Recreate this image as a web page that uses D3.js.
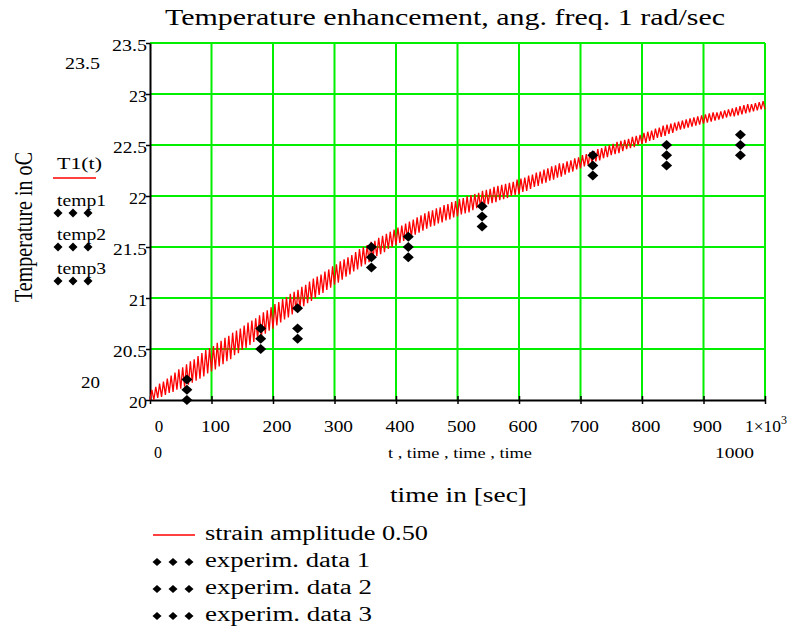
<!DOCTYPE html>
<html><head><meta charset="utf-8">
<script src="https://cdn.jsdelivr.net/npm/d3@7/dist/d3.min.js"></script>
<style>
body{margin:0;background:#fff}
svg{display:block}
text{font-family:"Liberation Serif","Times New Roman",serif;fill:#000}
</style>
</head><body>
<svg id="chart" width="795" height="634"></svg>
<script>
// ---------- data ----------
const titleText = "Temperature enhancement, ang. freq. 1 rad/sec";
const yTitle = "Temperature in oC";
const xTitle = "time in [sec]";
const xVarText = "t , time , time , time";
const xTicks = [0,100,200,300,400,500,600,700,800,900,1000];
const xTickLabels = ["0","100","200","300","400","500","600","700","800","900","1×10"];
const yTicks = [20,20.5,21,21.5,22,22.5,23,23.5];
const yTickLabels = ["20","20.5","21","21.5","22","22.5","23","23.5"];
const legendNames = ["strain amplitude 0.50","experim. data 1","experim. data 2","experim. data 3"];
const sideNames = ["T1(t)","temp1","temp2","temp3"];

const expTimes = [60,180,240,360,420,540,720,840,960];
const temp1 = [20.2,20.7,20.9,21.5,21.6,21.9,22.4,22.5,22.6];
const temp2 = [20.1,20.6,20.7,21.4,21.5,21.8,22.3,22.4,22.5];
const temp3 = [20.0,20.5,20.6,21.3,21.4,21.7,22.2,22.3,22.4];

// T1(t) samples, t = 0 .. 1000 sec
const t1Start = 0, t1End = 1000;
const t1Values = [
20.00,20.10,20.00,20.13,20.02,20.16,20.03,20.18,20.05,20.21,20.07,20.24,20.08,20.27,20.10,20.30,
20.11,20.32,20.13,20.35,20.15,20.38,20.17,20.40,20.19,20.43,20.21,20.46,20.23,20.49,20.26,20.51,
20.28,20.53,20.30,20.56,20.33,20.58,20.35,20.61,20.38,20.63,20.40,20.66,20.44,20.68,20.46,20.70,
20.49,20.73,20.51,20.76,20.54,20.78,20.57,20.80,20.60,20.83,20.62,20.86,20.65,20.88,20.68,20.91,
20.70,20.94,20.73,20.96,20.76,20.99,20.79,21.01,20.81,21.04,20.84,21.06,20.87,21.08,20.90,21.11,
20.92,21.13,20.95,21.16,20.97,21.19,21.00,21.21,21.03,21.23,21.05,21.26,21.08,21.28,21.10,21.31,
21.13,21.33,21.15,21.36,21.18,21.38,21.21,21.40,21.23,21.42,21.26,21.45,21.28,21.48,21.31,21.50,
21.33,21.52,21.35,21.55,21.38,21.56,21.41,21.59,21.43,21.61,21.45,21.63,21.48,21.65,21.50,21.67,
21.52,21.69,21.54,21.71,21.56,21.73,21.58,21.75,21.60,21.77,21.62,21.79,21.64,21.81,21.66,21.83,
21.68,21.85,21.70,21.86,21.71,21.88,21.73,21.89,21.74,21.91,21.76,21.92,21.77,21.94,21.79,21.95,
21.80,21.97,21.82,21.98,21.83,22.00,21.84,22.01,21.86,22.02,21.88,22.03,21.89,22.05,21.90,22.06,
21.92,22.07,21.93,22.09,21.94,22.10,21.96,22.11,21.97,22.12,21.98,22.13,22.00,22.14,22.01,22.16,
22.02,22.17,22.04,22.18,22.05,22.20,22.07,22.21,22.09,22.23,22.10,22.24,22.12,22.26,22.13,22.27,
22.15,22.29,22.16,22.30,22.18,22.32,22.19,22.32,22.21,22.34,22.23,22.35,22.24,22.37,22.26,22.38,
22.27,22.40,22.29,22.41,22.30,22.43,22.32,22.44,22.34,22.46,22.35,22.47,22.37,22.49,22.38,22.50,
22.40,22.51,22.41,22.53,22.42,22.54,22.44,22.55,22.46,22.56,22.47,22.58,22.48,22.59,22.50,22.60,
22.51,22.62,22.52,22.63,22.54,22.64,22.55,22.66,22.57,22.67,22.58,22.69,22.59,22.70,22.61,22.71,
22.62,22.72,22.64,22.73,22.65,22.74,22.66,22.75,22.67,22.76,22.68,22.77,22.69,22.78,22.70,22.79,
22.71,22.80,22.72,22.81,22.73,22.82,22.74,22.82,22.75,22.83,22.76,22.84,22.77,22.85,22.78,22.86,
22.78,22.87,22.79,22.88,22.80,22.89,22.81,22.90,22.82,22.90,22.83,22.91,22.84,22.92,22.85,22.93,
22.85
];

// ---------- drawing ----------
const svg = d3.select("#chart");
const x = d3.scaleLinear().domain([0,1000]).range([150,765]);
const y = d3.scaleLinear().domain([20,23.5]).range([400,43]);
const GREEN = "#00f000";
const diamond = (w,h) => `M0,${-h}L${w},0L0,${h}L${-w},0Z`;
const SG = "spacingAndGlyphs";

// title
svg.append("text").attr("x",165).attr("y",25).attr("font-size",23)
  .attr("textLength",560).attr("lengthAdjust",SG).text(titleText);

// grid
const grid = svg.append("g");
grid.selectAll("line.vx").data(xTicks.filter(d=>d>0)).join("line")
  .attr("x1",d=>x(d)).attr("x2",d=>x(d)).attr("y1",y(20)).attr("y2",y(23.5))
  .attr("stroke",GREEN).attr("stroke-width",2);
grid.selectAll("line.hy").data(yTicks.filter(d=>d>20)).join("line")
  .attr("y1",d=>y(d)).attr("y2",d=>y(d)).attr("x1",x(0)).attr("x2",x(1000))
  .attr("stroke",GREEN).attr("stroke-width",2);

// axes
const xAxis = svg.append("g").attr("transform",`translate(0,${y(20)})`)
  .call(d3.axisBottom(x).tickValues(xTicks).tickSizeInner(4).tickSizeOuter(0).tickFormat(""));
xAxis.select(".domain").attr("stroke","#000").attr("stroke-width",2);
xAxis.selectAll(".tick line").attr("y1",-4).attr("y2",4).attr("stroke","#000").attr("stroke-width",1.5);
const yAxis = svg.append("g").attr("transform",`translate(${x(0)},0)`)
  .call(d3.axisLeft(y).tickValues(yTicks).tickSizeInner(4).tickSizeOuter(0).tickFormat(""));
yAxis.select(".domain").attr("stroke","#000").attr("stroke-width",2);
yAxis.selectAll(".tick line").attr("stroke","#000").attr("stroke-width",1.5);

// y tick labels
const yLab = {"20":18,"20.5":34,"21":18,"21.5":34,"22":18,"22.5":34,"23":18,"23.5":35};
svg.append("g").selectAll("text").data(yTicks).join("text")
  .attr("x",147).attr("y",d=>y(d)+7.5).attr("text-anchor","end").attr("font-size",17)
  .attr("textLength",(d,i)=>yLab[yTickLabels[i]]).attr("lengthAdjust",SG)
  .text((d,i)=>yTickLabels[i]);

// x tick labels
const xl = svg.append("g");
xTicks.forEach((d,i)=>{
  const t = xl.append("text").attr("y",432).attr("font-size",17);
  if (i===0) { t.attr("x",x(d)+9).attr("text-anchor","middle").text(xTickLabels[i]); }
  else if (i===xTicks.length-1) {
    t.attr("x",x(d)-20).attr("text-anchor","start");
    t.append("tspan").attr("textLength",36).attr("lengthAdjust",SG).text(xTickLabels[i]);
    t.append("tspan").attr("dy",-8).attr("font-size",12).text("3");
  } else {
    t.attr("x",x(d)+4).attr("text-anchor","middle")
     .attr("textLength",29).attr("lengthAdjust",SG).text(xTickLabels[i]);
  }
});

// axis limit labels (Mathcad style)
svg.append("text").attr("x",65).attr("y",69).attr("font-size",17)
  .attr("textLength",35).attr("lengthAdjust",SG).text(yTickLabels[7]);
svg.append("text").attr("x",81).attr("y",388).attr("font-size",17)
  .attr("textLength",19).attr("lengthAdjust",SG).text(yTickLabels[0]);
svg.append("text").attr("x",154).attr("y",458).attr("font-size",16).text(xTickLabels[0]);
svg.append("text").attr("x",715).attr("y",458).attr("font-size",15.5)
  .attr("textLength",39).attr("lengthAdjust",SG).text(String(xTicks[10]));
svg.append("text").attr("x",388).attr("y",458).attr("font-size",15)
  .attr("textLength",144).attr("lengthAdjust",SG).text(xVarText);

// axis titles
svg.append("text").attr("x",390).attr("y",502).attr("font-size",20)
  .attr("textLength",137).attr("lengthAdjust",SG).text(xTitle);
svg.append("text").attr("transform","translate(32,302) scale(1.25,1) rotate(-90)").attr("font-size",19.5)
  .attr("textLength",150).attr("lengthAdjust",SG).text(yTitle);

// red curve
const n = t1Values.length;
const tAt = i => t1Start + i*(t1End - t1Start)/(n-1);
svg.append("path").datum(t1Values)
  .attr("fill","none").attr("stroke","#ff0000").attr("stroke-width",1.3)
  .attr("d", d3.line().x((d,i)=>x(tAt(i))).y(d=>y(d)));

// experimental points
[temp1,temp2,temp3].forEach(series=>{
  svg.append("g").selectAll("path").data(series).join("path")
    .attr("transform",(d,i)=>`translate(${x(expTimes[i])},${y(d)})`)
    .attr("d",diamond(5.5,5)).attr("fill","#000");
});

// side legend
const side = svg.append("g");
side.append("text").attr("x",57).attr("y",169).attr("font-size",16.5)
  .attr("textLength",45).attr("lengthAdjust",SG).text(sideNames[0]);
side.append("line").attr("x1",53).attr("x2",96).attr("y1",178).attr("y2",178)
  .attr("stroke","#ff0000").attr("stroke-width",1.5);
[[206,213],[240,247],[274,281]].forEach(([ty,dy],k)=>{
  side.append("text").attr("x",57).attr("y",ty).attr("font-size",16)
    .attr("textLength",49).attr("lengthAdjust",SG).text(sideNames[k+1]);
  [58,73,88].forEach(cx=>side.append("path").attr("transform",`translate(${cx},${dy})`)
    .attr("d",diamond(4.5,4.5)).attr("fill","#000"));
});

// bottom legend
const leg = svg.append("g");
leg.append("line").attr("x1",153).attr("x2",195).attr("y1",535).attr("y2",535)
  .attr("stroke","#ff0000").attr("stroke-width",1.5);
const legY = [540,567,594,621];
const legW = [223,165,167,167];
legendNames.forEach((name,k)=>{
  leg.append("text").attr("x",205).attr("y",legY[k]).attr("font-size",20)
    .attr("textLength",legW[k]).attr("lengthAdjust",SG).text(name);
  if (k>0) [157,173,189].forEach(cx=>leg.append("path")
    .attr("transform",`translate(${cx},${legY[k]-5})`).attr("d",diamond(4.5,4)).attr("fill","#000"));
});
</script>
</body></html>
